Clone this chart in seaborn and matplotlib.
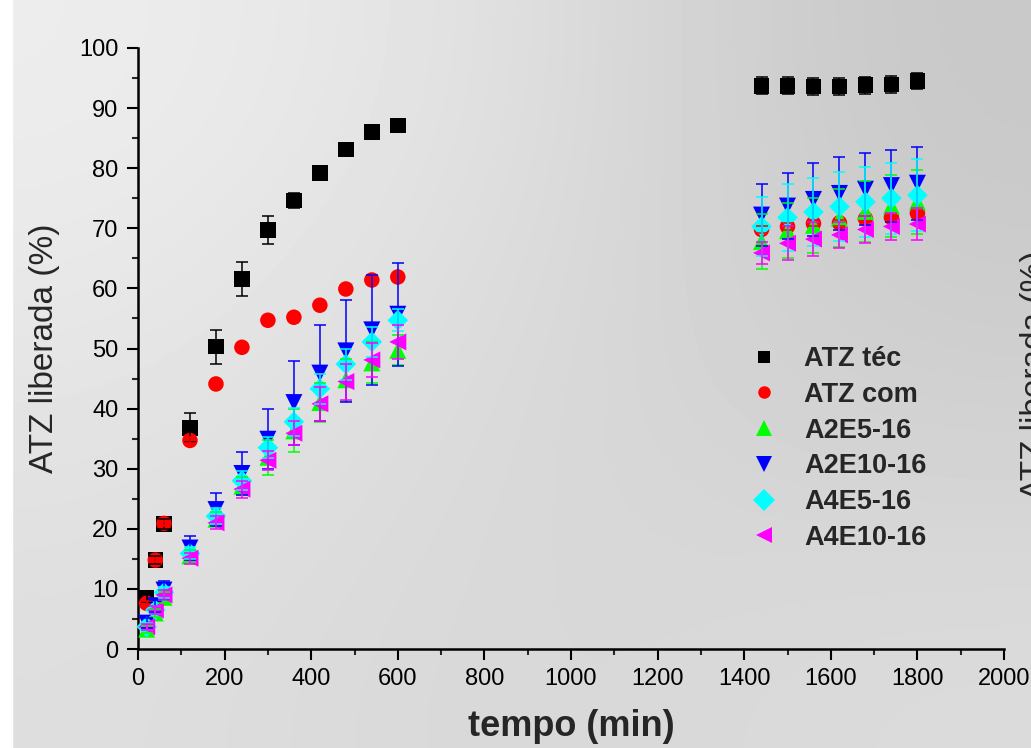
import numpy as np
import pandas as pd
import matplotlib
matplotlib.use('Agg')
from matplotlib import pyplot as plt
from matplotlib.lines import Line2D
from matplotlib.patches import Rectangle
import seaborn as sns

# dados
tempo = [20, 40, 60, 120, 180, 240, 300, 360, 420, 480, 540, 600,
         1440, 1500, 1560, 1620, 1680, 1740, 1800]

amostras = ['ATZ téc', 'ATZ com', 'A2E5-16', 'A2E10-16', 'A4E5-16', 'A4E10-16']

atz_tec = [8.5, 14.8, 20.8, 36.8, 50.3, 61.6, 69.7, 74.6, 79.2, 83.1, 86.0, 87.1,
           93.7, 93.7, 93.6, 93.6, 93.8, 93.9, 94.5]
atz_tec_err = [0.6, 0.6, 0.8, 2.4, 2.8, 2.8, 2.3, 1.2, 1.2, 0.6, 0.3, 0.3,
               1.4, 1.4, 1.4, 1.4, 1.4, 1.4, 1.4]

atz_com = [7.6, 14.8, 20.9, 34.7, 44.1, 50.2, 54.7, 55.2, 57.2, 59.9, 61.4, 61.9,
           69.8, 70.3, 70.8, 70.9, 71.6, 71.8, 72.5]
atz_com_err = [0.4, 0.4, 0.4, 0.5, 0.5, 0.5, 0.5, 0.5, 0.5, 0.5, 0.5, 0.5,
               0.5, 0.5, 0.5, 0.5, 0.5, 0.5, 0.5]

a2e5 = [3.3, 6.0, 8.6, 15.5, 21.6, 27.1, 31.9, 36.3, 41.0, 44.8, 47.6, 49.7,
        67.8, 69.6, 70.5, 71.7, 72.8, 73.7, 74.4]
a2e5_err = [0.6, 0.7, 0.9, 1.0, 1.2, 1.5, 2.9, 3.6, 3.3, 3.5, 3.4, 2.5,
            4.5, 4.6, 4.6, 4.8, 5.0, 5.2, 5.3]

a2e10 = [4.3, 7.2, 9.8, 16.8, 23.2, 29.2, 34.9, 41.0, 45.9, 49.6, 53.1, 55.7,
         72.2, 73.7, 74.8, 75.8, 76.5, 77.1, 77.5]
a2e10_err = [0.8, 1.0, 1.5, 2.0, 2.7, 3.6, 5.0, 7.0, 8.0, 8.5, 9.1, 8.6,
             5.2, 5.5, 6.1, 6.1, 6.0, 6.0, 6.1]

a4e5 = [3.7, 6.5, 9.4, 15.9, 22.1, 28.0, 33.5, 37.8, 43.3, 47.4, 51.1, 54.7,
        70.3, 71.8, 72.7, 73.6, 74.4, 75.0, 75.5]
a4e5_err = [0.6, 0.7, 0.9, 1.0, 1.3, 1.6, 1.8, 2.3, 2.5, 2.6, 2.5, 1.8,
            4.9, 5.6, 5.6, 5.7, 5.8, 5.9, 6.0]

a4e10 = [3.7, 6.5, 9.0, 15.1, 21.0, 26.6, 31.4, 35.9, 40.8, 44.5, 48.1, 51.1,
         65.9, 67.5, 68.2, 68.9, 69.8, 70.3, 70.7]
a4e10_err = [0.5, 0.7, 0.9, 0.9, 1.1, 1.4, 1.6, 2.0, 2.8, 3.0, 2.8, 2.8,
             1.8, 2.8, 2.8, 2.2, 2.2, 2.3, 2.6]

valores = [atz_tec, atz_com, a2e5, a2e10, a4e5, a4e10]
erros = [atz_tec_err, atz_com_err, a2e5_err, a2e10_err, a4e5_err, a4e10_err]

cores = {'ATZ téc': '#000000', 'ATZ com': '#ff0000', 'A2E5-16': '#00ff00',
         'A2E10-16': '#0000ff', 'A4E5-16': '#00ffff', 'A4E10-16': '#ff00ff'}
marcadores = {'ATZ téc': 's', 'ATZ com': 'o', 'A2E5-16': '^',
              'A2E10-16': 'v', 'A4E5-16': 'D', 'A4E10-16': '<'}
tamanhos = {'ATZ téc': 125, 'ATZ com': 125, 'A2E5-16': 150,
            'A2E10-16': 150, 'A4E5-16': 110, 'A4E10-16': 150}


def monta_dataset():
    linhas = []
    for nome, v, e in zip(amostras, valores, erros):
        for t, y, err in zip(tempo, v, e):
            linhas.append({'tempo': t, 'liberada': y, 'erro': err, 'amostra': nome})
    return pd.DataFrame(linhas)


def fundo(fig):
    # fundo cinza com leve gradiente, como na imagem original
    bg = fig.add_axes([0, 0, 1, 1], zorder=-10)
    grad = np.array([[0.93, 0.88, 0.78],
                     [0.90, 0.85, 0.81],
                     [0.87, 0.84, 0.86]])
    bg.imshow(grad, cmap='gray', vmin=0, vmax=1, interpolation='bicubic',
              aspect='auto', extent=[0, 1, 0, 1])
    bg.add_patch(Rectangle((0, 0), 12 / 1031, 1, color='white', transform=bg.transAxes))
    bg.set_axis_off()


if __name__ == '__main__':
    sns.set_theme(style='ticks')
    plt.rcParams['font.family'] = ['Liberation Sans', 'DejaVu Sans']

    dataset = monta_dataset()

    fig = plt.figure(figsize=(10.31, 7.48), dpi=100)
    fundo(fig)
    ax = fig.add_axes([138 / 1031, 1 - 649 / 748, (1004 - 138) / 1031, (649 - 48) / 748])
    ax.set_facecolor('none')

    sns.scatterplot(data=dataset, x='tempo', y='liberada', hue='amostra', style='amostra',
                    size='amostra', palette=cores, markers=marcadores, sizes=tamanhos,
                    hue_order=amostras, style_order=amostras, size_order=amostras,
                    edgecolor='none', linewidth=0, legend=False, ax=ax, zorder=3,
                    clip_on=False)

    for nome in amostras:
        sub = dataset[dataset.amostra == nome]
        ax.errorbar(sub.tempo, sub.liberada, yerr=sub.erro, fmt='none',
                    ecolor=cores[nome], elinewidth=1.1, capsize=4.3, capthick=1.1,
                    zorder=4, clip_on=False)

    ax.set_xlim(0, 2000)
    ax.set_ylim(0, 100)
    ax.set_xticks(range(0, 2001, 200))
    ax.set_xticks(range(100, 2000, 200), minor=True)
    ax.set_yticks(range(0, 101, 10))
    ax.set_yticks(range(5, 100, 10), minor=True)
    sns.despine(ax=ax)
    for s in ['left', 'bottom']:
        ax.spines[s].set_linewidth(1.8)
        ax.spines[s].set_color('black')
    ax.tick_params(which='major', direction='out', length=8, width=1.5, labelsize=17,
                   pad=6, colors='black')
    ax.tick_params(which='minor', direction='out', length=4, width=1.5)

    ax.set_xlabel('tempo (min)', fontsize=26, fontweight='bold', labelpad=13)
    ax.set_ylabel('ATZ liberada (%)', fontsize=24, labelpad=14)

    # rótulo do eixo direito, cortado na borda da imagem
    fig.text(1020 / 1031, 1 - 375 / 748, 'ATZ liberada (%)', rotation=90, fontsize=24,
             ha='left', va='center')

    handles = [Line2D([], [], linestyle='none', marker=marcadores[n], color=cores[n],
                      markersize=9 if n in ('ATZ téc', 'ATZ com') else 11,
                      markeredgewidth=0) for n in amostras]
    ax.legend(handles, amostras, loc='upper left', bbox_to_anchor=(750 / 1031, 1 - 346 / 748),
              bbox_transform=fig.transFigure, frameon=False, borderpad=0, borderaxespad=0,
              handlelength=1.0, handletextpad=1.0, labelspacing=0.36,
              prop={'size': 19.5, 'weight': 'bold'})

    fig.savefig('out.png', dpi=100)
